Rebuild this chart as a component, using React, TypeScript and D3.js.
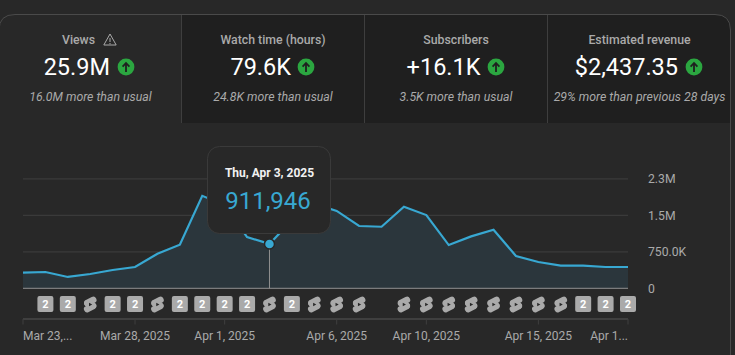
import React from "react";
import * as d3 from "d3";

const W = 735, H = 355;
const days = d3.range(28);
const views = [321000,335000,233000,294000,376000,438000,711000,896000,1900000,1710000,1053000,911946,1400000,1740000,1590000,1280000,1265000,1676000,1505000,889000,1067000,1204000,663000,540000,465000,465000,438000,438000];
const iconKinds = ["","2","2","s","2","2","s","2","2","2","2","s","2","s","s","s","","s","s","s","s","s","s","s","s","2","2","2"];
const xTickIdx = [0,5,9,14,18,23,27];
const xTickLabels = ["Mar 23,...","Mar 28, 2025","Apr 1, 2025","Apr 6, 2025","Apr 10, 2025","Apr 15, 2025","Apr 1..."];
const yTickValues = [0,750000,1500000,2250000];
const yTickLabels = ["0","750.0K","1.5M","2.3M"];
const tabTitles = ["Views","Watch time (hours)","Subscribers","Estimated revenue"];
const tabValues = ["25.9M","79.6K","+16.1K","$2,437.35"];
const tabNotes = ["16.0M more than usual","24.8K more than usual","3.5K more than usual","29% more than previous 28 days"];
const tabEdges = [0,181.5,364.5,547.5,731];
const titleCenters = [78.5,273,456,639.5];
const valueEnds = [110,291,480.5,678];
const arrowCenters = [126,306,496,694];
const noteCenters = [90.5,273,456,639.5];
const focusIdx = 11;

const font = "Roboto, sans-serif";
const blue = "#38a8d2";
const x = d3.scaleLinear().domain([0,27]).range([23,628]);
const y = d3.scaleLinear().domain([0,2250000]).range([288.3,178.8]);
const line = d3.line<number>().x((_,i)=>x(i)).y(d=>y(d));
const area = d3.area<number>().x((_,i)=>x(i)).y0(y(0)).y1(d=>y(d));

function Arrow({cx,cy}:{cx:number;cy:number}){
  return <g transform={`translate(${cx},${cy})`}>
    <circle r={8.4} fill="#2ba640"/>
    <path d="M0,5 V-3 M-3.4,-0.4 L0,-4 L3.4,-0.4" stroke="#1f1f1f" strokeWidth={1.8} fill="none"/>
  </g>;
}
function Shorts({cx,cy}:{cx:number;cy:number}){
  return <g transform={`translate(${cx},${cy})`}>
    <g stroke="#aaaaaa" strokeWidth={6.6} strokeLinecap="round" fill="none">
      <path d="M-2.8,-1.6 L3,-4.6"/>
      <path d="M-3,4.6 L2.8,1.6"/>
      <path d="M-2.8,-1.2 L2.8,1.2"/>
    </g>
    <path d="M-1.2,-1.7 L2,0 L-1.2,1.7 Z" fill="#282828"/>
  </g>;
}
function Two({cx,cy}:{cx:number;cy:number}){
  return <g transform={`translate(${cx},${cy})`}>
    <rect x={-8} y={-8} width={16} height={16} rx={2} fill="#aaaaaa"/>
    <text y={4} textAnchor="middle" fontSize={11} fontWeight={700} fill="#fff" fontFamily={font}>2</text>
  </g>;
}

export default function App(){
  return <svg width={W} height={H} style={{position:"absolute",left:0,top:0,background:"#282828",display:"block"}}>
    <rect x={181.5} y={15} width={549.5} height={108} fill="#1f1f1f"/>
    <path d={`M716,15 Q731,15 731,30 V15 Z`} fill="#282828"/>
    <path d={`M-1,30 Q-1,14.5 15,14.5 H715 Q730.5,14.5 730.5,30 V355`} fill="none" stroke="#4a4a4a"/>
    {tabEdges.slice(1,4).map(e=><line key={e} x1={e} x2={e} y1={15} y2={123} stroke="#3e3e3e"/>)}
    {tabTitles.map((t,i)=>(
      <g key={t}>
        <text x={titleCenters[i]} y={44} textAnchor="middle" fontSize={12.3} fontWeight={500} fill="#aaaaaa" fontFamily={font}>{t}</text>
        <text x={valueEnds[i]} y={75} textAnchor="end" fontSize={23.5} fill="#fff" fontFamily={font}>{tabValues[i]}</text>
        <Arrow cx={arrowCenters[i]} cy={67}/>
        <text x={noteCenters[i]} y={101} textAnchor="middle" fontSize={12.3} fontStyle="italic" fill="#aaaaaa" fontFamily={font}>{tabNotes[i]}</text>
      </g>
    ))}
    <g transform="translate(110,40)" fill="none" stroke="#aaaaaa" strokeWidth={1}>
      <path d="M0,-6 L6.2,5 H-6.2 Z"/><path d="M0,-2 V2 M0,3 V4.2"/>
    </g>
    {yTickValues.slice(1).map(v=><line key={v} x1={23} x2={628} y1={y(v)} y2={y(v)} stroke="#3a3a3a" strokeWidth={1.2}/>)}
    <path d={area(views)!} fill="#2b363c"/>
    <line x1={23} x2={628} y1={y(0)} y2={y(0)} stroke="#909090" strokeWidth={1}/>
    <path d={line(views)!} fill="none" stroke={blue} strokeWidth={2.2}/>
    {yTickValues.map((v,i)=><text key={v} x={648} y={y(v)+4.5} fontSize={12.2} fill="#aaaaaa" fontFamily={font}>{yTickLabels[i]}</text>)}
    <line x1={x(focusIdx)} x2={x(focusIdx)} y1={y(views[focusIdx])} y2={y(0)} stroke="#909090"/>
    <circle cx={x(focusIdx)} cy={y(views[focusIdx])} r={5} fill={blue} stroke="#282828" strokeWidth={1.5}/>
    <rect x={207.5} y={146.5} width={123} height={87} rx={12} fill="#282828" stroke="#3a3a3a"/>
    <text x={269.5} y={177} textAnchor="middle" fontSize={12} fontWeight={700} fill="#f1f1f1" fontFamily={font}>Thu, Apr 3, 2025</text>
    <text x={268} y={209} textAnchor="middle" fontSize={24} fill={blue} fontFamily={font}>{d3.format(",")(views[focusIdx])}</text>
    {days.map(i=>iconKinds[i]==="2"?<Two key={i} cx={x(i)} cy={304}/>:iconKinds[i]==="s"?<Shorts key={i} cx={x(i)} cy={304.5}/>:null)}
    <line x1={23} x2={628} y1={319} y2={319} stroke="#3f3f3f" strokeWidth={2}/>
    {xTickIdx.map((d,i)=>{
      const a = i===0?"start":i===xTickIdx.length-1?"end":"middle";
      return <g key={d}>
        <line x1={x(d)} x2={x(d)} y1={319} y2={324.5} stroke="#3f3f3f"/>
        <text x={x(d)} y={340} textAnchor={a} fontSize={12} fill="#aaaaaa" fontFamily={font}>{xTickLabels[i]}</text>
      </g>;
    })}
  </svg>;
}
